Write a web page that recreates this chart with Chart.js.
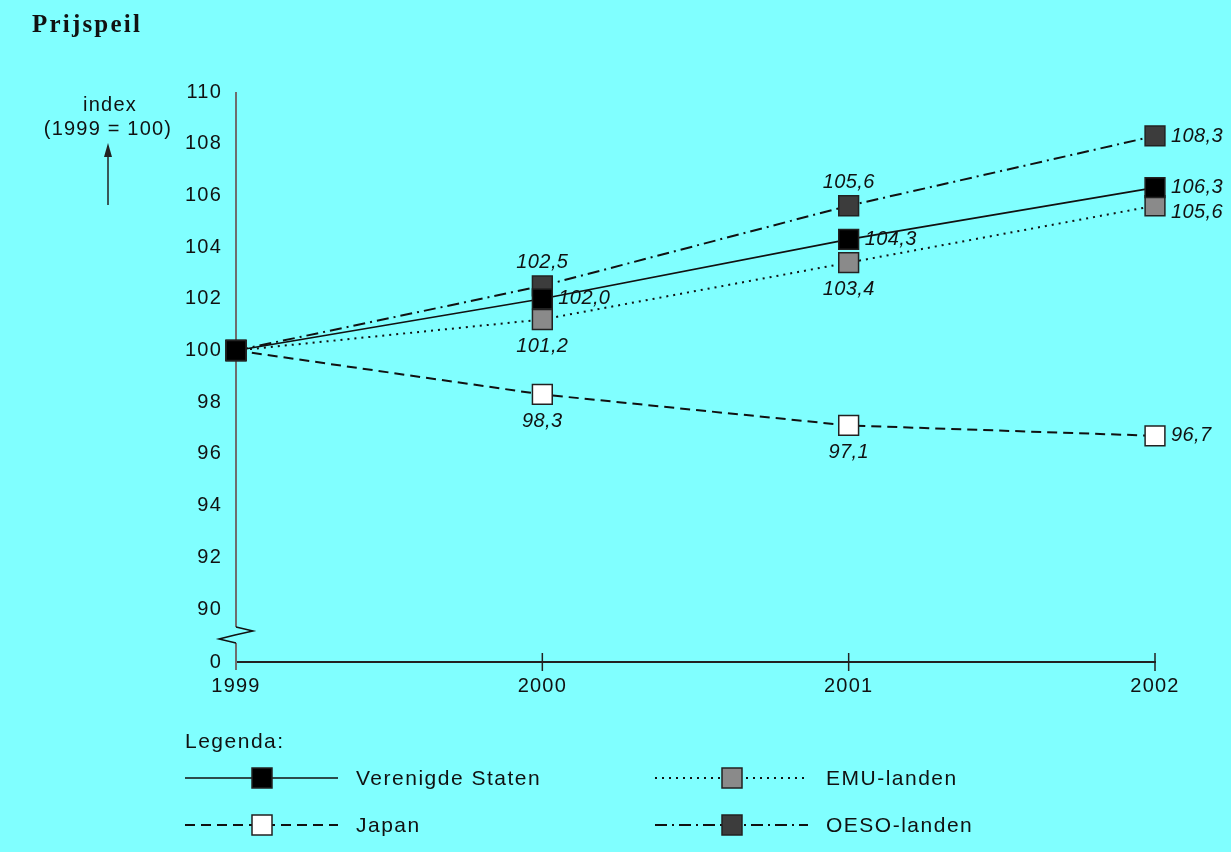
<!DOCTYPE html>
<html>
<head>
<meta charset="utf-8">
<script src="https://cdn.jsdelivr.net/npm/chart.js@4.4.1/dist/chart.umd.min.js"></script>
<style>
  html, body { margin: 0; padding: 0; background: #80ffff; }
  #wrap { width: 1231px; height: 852px; position: relative; }
</style>
</head>
<body>
<div id="wrap"><canvas id="myChart"></canvas></div>
<script>
const years = ['1999', '2000', '2001', '2002'];
const verenigdeStaten = [100, 102.0, 104.3, 106.3];
const japan = [100, 98.3, 97.1, 96.7];
const emuLanden = [100, 101.2, 103.4, 105.6];
const oesoLanden = [100, 102.5, 105.6, 108.3];
const yTicks = [90, 92, 94, 96, 98, 100, 102, 104, 106, 108, 110];

// where each value label sits next to its marker
const labelPos = {
  us: [null, 'right', 'right', 'right'],
  jp: [null, 'below', 'below', 'right'],
  emu: [null, 'below', 'below', 'rightLow'],
  oeso: [null, 'above', 'above', 'right']
};

const Y_MIN = 87.95;
const fontSans = '"Liberation Sans", Arial, sans-serif';

function mkSet(label, values, fill, dash, width, pos) {
  return {
    label: label,
    data: values,
    borderColor: '#111',
    borderWidth: width,
    borderDash: dash,
    backgroundColor: fill,
    pointStyle: 'rect',
    pointRadius: 14,
    pointHoverRadius: 14,
    pointBackgroundColor: fill,
    pointBorderColor: '#222',
    pointBorderWidth: 1.5,
    tension: 0,
    fill: false,
    labelPos: pos
  };
}

const data = {
  labels: years,
  datasets: [
    mkSet('Verenigde Staten', verenigdeStaten, '#000000', [], 1.6, labelPos.us),
    mkSet('Japan', japan, '#ffffff', [10, 6], 2, labelPos.jp),
    mkSet('EMU-landen', emuLanden, '#8a8a8a', [2, 5], 2, labelPos.emu),
    mkSet('OESO-landen', oesoLanden, '#3c3c3c', [12, 5, 2, 5], 2, labelPos.oeso)
  ]
};

const fmt = v => v.toFixed(1).replace('.', ',');

const extras = {
  id: 'extras',
  beforeDraw(chart) {
    // wide tracking like the original print
    chart.ctx.letterSpacing = '1.2px';
  },
  beforeDatasetsDraw(chart) {
    const {ctx, chartArea, scales} = chart;
    const x0 = scales.x.getPixelForValue(0);
    ctx.save();
    // x tick marks crossing the axis
    ctx.strokeStyle = '#222';
    ctx.lineWidth = 1.5;
    for (let i = 1; i < years.length; i++) {
      const x = scales.x.getPixelForValue(i);
      ctx.beginPath();
      ctx.moveTo(x, chartArea.bottom - 9);
      ctx.lineTo(x, chartArea.bottom + 9);
      ctx.stroke();
    }
    // y axis with break
    ctx.strokeStyle = '#6e6e6e';
    ctx.lineWidth = 2;
    ctx.beginPath();
    ctx.moveTo(x0, chartArea.top);
    ctx.lineTo(x0, 627);
    ctx.stroke();
    ctx.beginPath();
    ctx.moveTo(x0, 643);
    ctx.lineTo(x0, chartArea.bottom + 8);
    ctx.stroke();
    ctx.strokeStyle = '#111';
    ctx.lineWidth = 1.5;
    ctx.beginPath();
    ctx.moveTo(x0, 627);
    ctx.lineTo(x0 + 17, 631);
    ctx.lineTo(x0 - 1, 635);
    ctx.lineTo(x0 - 17, 639);
    ctx.lineTo(x0, 643);
    ctx.stroke();
    ctx.restore();
  },
  afterDatasetsDraw(chart) {
    const {ctx} = chart;
    ctx.save();
    ctx.letterSpacing = '0.4px';
    ctx.font = 'italic 20px ' + fontSans;
    ctx.fillStyle = '#111';
    chart.data.datasets.forEach((ds, i) => {
      const meta = chart.getDatasetMeta(i);
      meta.data.forEach((pt, j) => {
        const p = ds.labelPos[j];
        if (!p) return;
        const t = fmt(ds.data[j]);
        ctx.textBaseline = 'middle';
        if (p === 'right' || p === 'rightLow') {
          ctx.textAlign = 'left';
          ctx.fillText(t, pt.x + 16, pt.y + (p === 'rightLow' ? 7 : 0));
        } else if (p === 'above') {
          ctx.textAlign = 'center';
          ctx.fillText(t, pt.x, pt.y - 23);
        } else {
          ctx.textAlign = 'center';
          ctx.fillText(t, pt.x, pt.y + 27);
        }
      });
    });
    ctx.restore();
  },
  afterDraw(chart) {
    const {ctx} = chart;
    ctx.save();
    // title
    ctx.fillStyle = '#111';
    ctx.letterSpacing = '2.2px';
    ctx.font = 'bold 25px "Liberation Serif", "DejaVu Serif", serif';
    ctx.textAlign = 'left';
    ctx.textBaseline = 'alphabetic';
    ctx.fillText('Prijspeil', 32, 32);
    // y axis caption with arrow
    ctx.letterSpacing = '1.2px';
    ctx.font = '20px ' + fontSans;
    ctx.textAlign = 'center';
    ctx.textBaseline = 'middle';
    ctx.fillText('index', 110, 105);
    ctx.fillText('(1999 = 100)', 108, 129);
    ctx.strokeStyle = '#222';
    ctx.lineWidth = 1.5;
    ctx.beginPath();
    ctx.moveTo(108, 205);
    ctx.lineTo(108, 152);
    ctx.stroke();
    ctx.beginPath();
    ctx.moveTo(108, 143);
    ctx.lineTo(104, 157);
    ctx.lineTo(112, 157);
    ctx.closePath();
    ctx.fillStyle = '#222';
    ctx.fill();

    // legend
    ctx.fillStyle = '#111';
    ctx.textAlign = 'left';
    ctx.textBaseline = 'middle';
    ctx.letterSpacing = '1.5px';
    ctx.font = '21px ' + fontSans;
    ctx.fillText('Legenda:', 185, 742);
    const slots = [[185, 778], [185, 825], [655, 778], [655, 825]];
    chart.data.datasets.forEach((ds, i) => {
      const [lx, ly] = slots[i];
      ctx.save();
      ctx.strokeStyle = ds.borderColor;
      ctx.lineWidth = ds.borderWidth;
      ctx.setLineDash(ds.borderDash);
      ctx.beginPath();
      ctx.moveTo(lx, ly);
      ctx.lineTo(lx + 153, ly);
      ctx.stroke();
      ctx.setLineDash([]);
      ctx.fillStyle = ds.pointBackgroundColor;
      ctx.strokeStyle = ds.pointBorderColor;
      ctx.lineWidth = 1.5;
      ctx.fillRect(lx + 67, ly - 10, 20, 20);
      ctx.strokeRect(lx + 67, ly - 10, 20, 20);
      ctx.restore();
      ctx.fillStyle = '#111';
      ctx.fillText(ds.label, lx + 171, ly + 1);
    });
    ctx.restore();
  }
};

const config = {
  type: 'line',
  data,
  options: {
    responsive: true,
    maintainAspectRatio: false,
    animation: false,
    layout: { padding: { left: 0, right: 76, top: 92, bottom: 160 } },
    scales: {
      x: {
        type: 'category',
        offset: false,
        grid: { display: false, drawTicks: false },
        border: { display: true, color: '#222', width: 2 },
        ticks: { color: '#111', font: { family: fontSans, size: 20 }, padding: 12, maxRotation: 0 },
        afterFit(scale) { scale.height = 30; }
      },
      y: {
        min: Y_MIN,
        max: 110,
        grid: { display: false, drawTicks: false },
        border: { display: false },
        afterBuildTicks(scale) {
          scale.ticks = [Y_MIN].concat(yTicks).map(v => ({ value: v }));
        },
        ticks: {
          color: '#111',
          padding: 14,
          font: { family: fontSans, size: 20 },
          callback: v => (v < 90 ? '0' : String(v))
        },
        afterFit(scale) { scale.width = 236; }
      }
    },
    plugins: {
      legend: { display: false },
      tooltip: { enabled: false }
    }
  },
  plugins: [extras]
};

const myChart = new Chart(document.getElementById('myChart'), config);
</script>
</body>
</html>
